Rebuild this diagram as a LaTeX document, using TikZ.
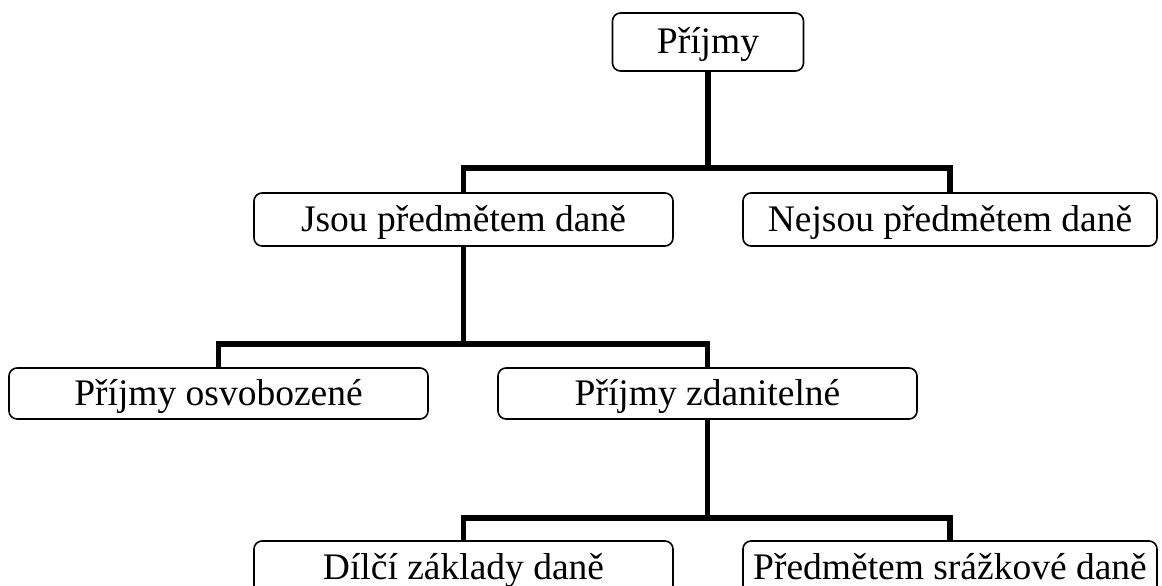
\documentclass[tikz,border=0pt]{standalone}
\usepackage{fontspec}
\setmainfont{Liberation Serif}
\usetikzlibrary{positioning}

\tikzset{
  box/.style={draw, line width=1.6pt, rounded corners=8pt, fill=white,
              font=\fontsize{37.5}{41}\selectfont, inner sep=0pt,
              text height=28pt, text depth=5pt},
  link/.style={line width=5.5pt, line join=miter},
}

\begin{document}
\begin{tikzpicture}[x=1pt,y=-1pt]
            % page frame
            \useasboundingbox (0,0) rectangle (1162,586);

            % the boxes
            \node[box, minimum width=191pt, minimum height=58pt] (prijmy) at (708,42) {Příjmy};
            \node[box, minimum width=419pt, minimum height=53pt] (jsou) at (463.5,219.5) {Jsou předmětem daně};
            \node[box, minimum width=414pt, minimum height=53pt] (nejsou) at (950,219.5) {Nejsou předmětem daně};
            \node[box, minimum width=419pt, minimum height=51pt] (osvob) at (218.5,393.5) {Příjmy osvobozené};
            \node[box, minimum width=419pt, minimum height=51pt] (zdan) at (707.5,393.5) {Příjmy zdanitelné};
            \node[box, minimum width=419pt, minimum height=53pt] (dilci) at (463.5,567.5) {Dílčí základy daně};
            \node[box, minimum width=414pt, minimum height=53pt] (srazk) at (950,567.5) {Předmětem srážkové daně};

            % levels of the branches
            \coordinate (bus1) at (0,168);
            \coordinate (bus2) at (0,344);
            \coordinate (bus3) at (0,518);

            % first level
            \draw[link] (prijmy.south) -- (prijmy.south |- bus1) -| (jsou.north);
            \draw[link] (prijmy.south |- bus1) -| (nejsou.north);

            % second level
            \draw[link] (jsou.south) -- (jsou.south |- bus2) -| (osvob.north);
            \draw[link] (jsou.south |- bus2) -| (zdan.north);

            % third level
            \draw[link] (zdan.south) -- (zdan.south |- bus3) -| (dilci.north);
            \draw[link] (zdan.south |- bus3) -| (srazk.north);
\end{tikzpicture}
\end{document}
